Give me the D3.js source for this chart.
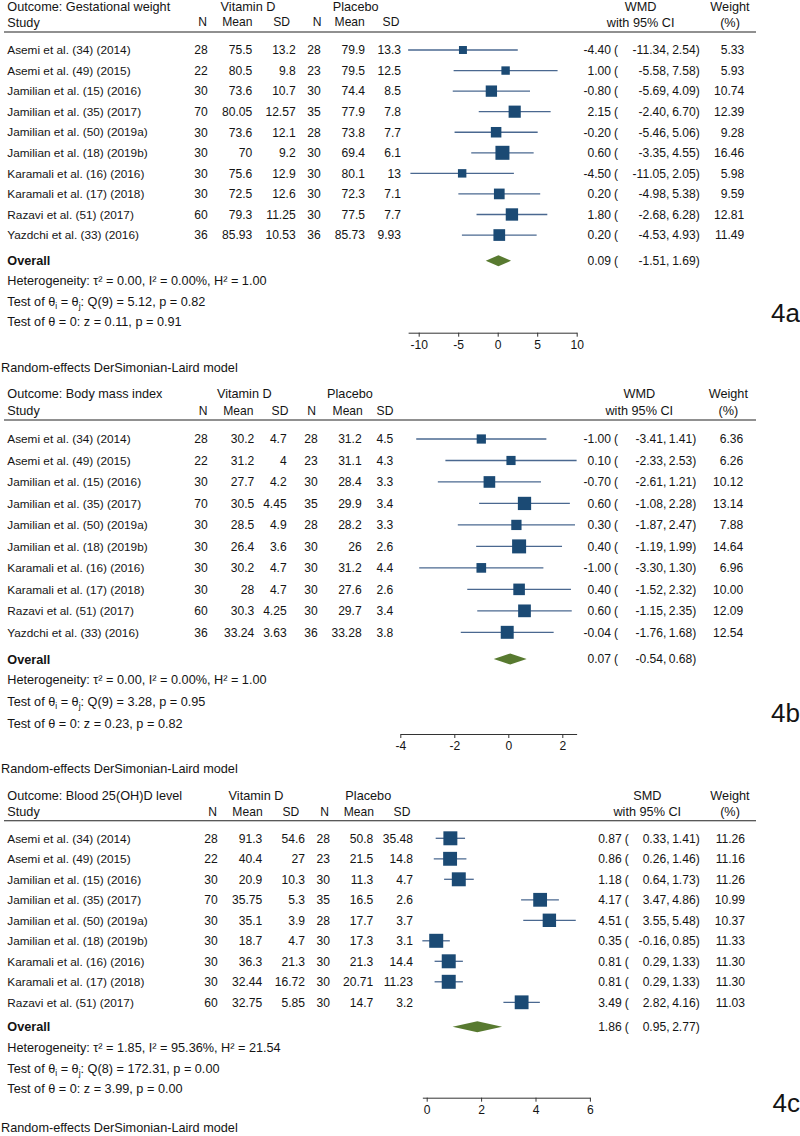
<!DOCTYPE html>
<html>
<head>
<meta charset="utf-8">
<script src="https://cdn.jsdelivr.net/npm/d3@7"></script>
<style>
  html, body { margin: 0; padding: 0; background: #fff; }
  svg { display: block; }
</style>
</head>
<body>
<script>
// ---------------- DATA ----------------
const studies10 = ["Asemi et al. (34) (2014)", "Asemi et al. (49) (2015)", "Jamilian et al. (15) (2016)",
  "Jamilian et al. (35) (2017)", "Jamilian et al. (50) (2019a)", "Jamilian et al. (18) (2019b)",
  "Karamali et al. (16) (2016)", "Karamali et al. (17) (2018)", "Razavi et al. (51) (2017)",
  "Yazdchi et al. (33) (2016)"];
const studies9 = studies10.slice(0, 9);

// 4a: Gestational weight
const titleA = "Outcome: Gestational weight";
const nVitA = [28, 22, 30, 70, 30, 30, 30, 30, 60, 36];
const meanVitA = [75.5, 80.5, 73.6, 80.05, 73.6, 70, 75.6, 72.5, 79.3, 85.93];
const sdVitA = [13.2, 9.8, 10.7, 12.57, 12.1, 9.2, 12.9, 12.6, 11.25, 10.53];
const nPlaA = [28, 23, 30, 35, 28, 30, 30, 30, 30, 36];
const meanPlaA = [79.9, 79.5, 74.4, 77.9, 73.8, 69.4, 80.1, 72.3, 77.5, 85.73];
const sdPlaA = [13.3, 12.5, 8.5, 7.8, 7.7, 6.1, 13, 7.1, 7.7, 9.93];
const effA = [-4.40, 1.00, -0.80, 2.15, -0.20, 0.60, -4.50, 0.20, 1.80, 0.20];
const lowA = [-11.34, -5.58, -5.69, -2.40, -5.46, -3.35, -11.05, -4.98, -2.68, -4.53];
const highA = [2.54, 7.58, 4.09, 6.70, 5.06, 4.55, 2.05, 5.38, 6.28, 4.93];
const weightA = [5.33, 5.93, 10.74, 12.39, 9.28, 16.46, 5.98, 9.59, 12.81, 11.49];
const overallA = [0.09, -1.51, 1.69];
const hetA = ["0.00", "0.00%", "1.00"];
const qA = ["9", "5.12", "0.82"];
const zA = ["0.11", "0.91"];
const ticksA = [-10, -5, 0, 5, 10];

// 4b: Body mass index
const titleB = "Outcome: Body mass index";
const nVitB = [28, 22, 30, 70, 30, 30, 30, 30, 60, 36];
const meanVitB = [30.2, 31.2, 27.7, 30.5, 28.5, 26.4, 30.2, 28, 30.3, 33.24];
const sdVitB = [4.7, 4, 4.2, 4.45, 4.9, 3.6, 4.7, 4.7, 4.25, 3.63];
const nPlaB = [28, 23, 30, 35, 28, 30, 30, 30, 30, 36];
const meanPlaB = [31.2, 31.1, 28.4, 29.9, 28.2, 26, 31.2, 27.6, 29.7, 33.28];
const sdPlaB = [4.5, 4.3, 3.3, 3.4, 3.3, 2.6, 4.4, 2.6, 3.4, 3.8];
const effB = [-1.00, 0.10, -0.70, 0.60, 0.30, 0.40, -1.00, 0.40, 0.60, -0.04];
const lowB = [-3.41, -2.33, -2.61, -1.08, -1.87, -1.19, -3.30, -1.52, -1.15, -1.76];
const highB = [1.41, 2.53, 1.21, 2.28, 2.47, 1.99, 1.30, 2.32, 2.35, 1.68];
const weightB = [6.36, 6.26, 10.12, 13.14, 7.88, 14.64, 6.96, 10.00, 12.09, 12.54];
const overallB = [0.07, -0.54, 0.68];
const hetB = ["0.00", "0.00%", "1.00"];
const qB = ["9", "3.28", "0.95"];
const zB = ["0.23", "0.82"];
const ticksB = [-4, -2, 0, 2];

// 4c: Blood 25(OH)D level
const titleC = "Outcome: Blood 25(OH)D level";
const nVitC = [28, 22, 30, 70, 30, 30, 30, 30, 60];
const meanVitC = [91.3, 40.4, 20.9, 35.75, 35.1, 18.7, 36.3, 32.44, 32.75];
const sdVitC = [54.6, 27, 10.3, 5.3, 3.9, 4.7, 21.3, 16.72, 5.85];
const nPlaC = [28, 23, 30, 35, 28, 30, 30, 30, 30];
const meanPlaC = [50.8, 21.5, 11.3, 16.5, 17.7, 17.3, 21.3, 20.71, 14.7];
const sdPlaC = [35.48, 14.8, 4.7, 2.6, 3.7, 3.1, 14.4, 11.23, 3.2];
const effC = [0.87, 0.86, 1.18, 4.17, 4.51, 0.35, 0.81, 0.81, 3.49];
const lowC = [0.33, 0.26, 0.64, 3.47, 3.55, -0.16, 0.29, 0.29, 2.82];
const highC = [1.41, 1.46, 1.73, 4.86, 5.48, 0.85, 1.33, 1.33, 4.16];
const weightC = [11.26, 11.16, 11.26, 10.99, 10.37, 11.33, 11.30, 11.30, 11.03];
const overallC = [1.86, 0.95, 2.77];
const hetC = ["1.85", "95.36%", "21.54"];
const qC = ["8", "172.31", "0.00"];
const zC = ["3.99", "0.00"];
const ticksC = [0, 2, 4, 6];

// ---------------- LAYOUT ----------------
const W = 800, H = 1136;
const FONT = "'Liberation Sans', Arial, Helvetica, sans-serif";
const FS = 12.7;      // general text
const FS_NAME = 11.8; // study names
const FS_NUM = 12.1;  // numbers and column heads
const TXT = "#141414";
const NAVY = "#1b4a74";
const LINE = "#4a6890";
const GREEN = "#587a30";

const panels = [
  { tag: "4a", title: titleA, effName: "WMD", studies: studies10,
    cols: [nVitA, meanVitA, sdVitA, nPlaA, meanPlaA, sdPlaA],
    eff: effA, low: lowA, high: highA, weight: weightA, overall: overallA,
    het: hetA, q: qA, z: zA, ticks: ticksA,
    L: { h1: 6, h2: 22, rule: 32, row0: 50, step: 20.56, overall: 260.7, het: 280.7, t1: 301.7, t2: 321.7,
         axis: 332.7, model: 367.7, tag: 313,
         colR: [207.7, 252.3, 295.7, 320.7, 365, 401], colH: [202.7, 237.3, 281.7, 317, 349.7, 391],
         vitC: 248, plaC: 355.7, x0: 497.7, ppu: 7.9, xE: 611, xL: 666, xU: 695.7, wR: 744.3, effC: 640.7, wC: 730 } },
  { tag: "4b", title: titleB, effName: "WMD", studies: studies10,
    cols: [nVitB, meanVitB, sdVitB, nPlaB, meanPlaB, sdPlaB],
    eff: effB, low: lowB, high: highB, weight: weightB, overall: overallB,
    het: hetB, q: qB, z: zB, ticks: ticksB,
    L: { h1: 393.3, h2: 410.7, rule: 420, row0: 439, step: 21.48, overall: 659, het: 679.3, t1: 701.7, t2: 723.3,
         axis: 734, model: 768.3, tag: 713,
         colR: [207.7, 254.3, 286.7, 317.7, 361.7, 393.3], colH: [203, 238.3, 280, 311.7, 347.7, 385],
         vitC: 244.3, plaC: 350, x0: 508.3, ppu: 27, xE: 611, xL: 663, xU: 692.3, wR: 743.3, effC: 639.3, wC: 728.3 } },
  { tag: "4c", title: titleC, effName: "SMD", studies: studies9,
    cols: [nVitC, meanVitC, sdVitC, nPlaC, meanPlaC, sdPlaC],
    eff: effC, low: lowC, high: highC, weight: weightC, overall: overallC,
    het: hetC, q: qC, z: zC, ticks: ticksC,
    L: { h1: 795, h2: 811.7, rule: 820.7, row0: 838.3, step: 20.5, overall: 1026.7, het: 1047.3, t1: 1068.3, t2: 1088.3,
         axis: 1097.7, model: 1127.5, tag: 1103,
         colR: [217.7, 262.3, 305, 330, 373.3, 413], colH: [212.7, 247.5, 290.8, 324.7, 358.8, 402],
         vitC: 256, plaC: 368.3, x0: 426.7, ppu: 27.2, xE: 621.7, xL: 666.2, xU: 695.7, wR: 745, effC: 647.3, wC: 730 } }
];

const svg = d3.select("body").append("svg")
  .attr("width", W).attr("height", H)
  .attr("viewBox", `0 0 ${W} ${H}`)
  .style("font-family", FONT);
svg.append("rect").attr("width", W).attr("height", H).attr("fill", "#fff");

const f2 = v => v.toFixed(2);

function txt(g, x, yc, s, anchor = "start", opts = {}) {
  const fs = opts.fs || FS;
  return g.append("text")
    .attr("x", x).attr("y", yc + (opts.bl != null ? opts.bl : fs * 0.36))
    .attr("text-anchor", anchor)
    .attr("font-size", fs)
    .attr("font-weight", opts.bold ? "bold" : null)
    .attr("fill", TXT)
    .text(s);
}
const num = (g, x, yc, s, anchor = "end") => txt(g, x, yc, s, anchor, { fs: FS_NUM });

panels.forEach(p => {
  const L = p.L;
  const g = svg.append("g");
  const n = p.studies.length;

  // scales
  const dmin = Math.min(d3.min(p.low), d3.min(p.ticks));
  const dmax = Math.max(d3.max(p.high), d3.max(p.ticks));
  const x = d3.scaleLinear().domain([dmin, dmax])
    .range([L.x0 + dmin * L.ppu, L.x0 + dmax * L.ppu]);
  const y = d3.scaleLinear().domain([0, n - 1]).range([L.row0, L.row0 + (n - 1) * L.step]);
  const side = d3.scaleSqrt().domain([0, d3.max(p.weight)]).range([0, 14]);

  // headers
  txt(g, 7.3, L.h1, p.title);
  txt(g, 7.3, L.h2, "Study");
  txt(g, L.vitC, L.h1, "Vitamin D", "middle");
  txt(g, L.plaC, L.h1, "Placebo", "middle");
  ["N", "Mean", "SD", "N", "Mean", "SD"].forEach((h, i) => num(g, L.colH[i], L.h2, h, "middle"));
  txt(g, L.effC, L.h1, p.effName, "middle");
  txt(g, L.effC, L.h2, "with 95% CI", "middle");
  txt(g, L.wC, L.h1, "Weight", "middle");
  txt(g, L.wC, L.h2, "(%)", "middle");
  g.append("line").attr("x1", 4).attr("x2", 756).attr("y1", L.rule).attr("y2", L.rule)
    .attr("stroke", "#222").attr("stroke-width", 1.1);

  // rows
  p.studies.forEach((s, i) => {
    const yc = y(i);
    txt(g, 7.3, yc, s, "start", { fs: FS_NAME });
    p.cols.forEach((col, j) => num(g, L.colR[j], yc, String(col[i])));
    // CI
    g.append("line").attr("x1", x(p.low[i])).attr("x2", x(p.high[i]))
      .attr("y1", yc).attr("y2", yc).attr("stroke", LINE).attr("stroke-width", 1.3);
    const sd = side(p.weight[i]);
    g.append("rect").attr("x", x(p.eff[i]) - sd / 2).attr("y", yc - sd / 2)
      .attr("width", sd).attr("height", sd).attr("fill", NAVY);
    // text columns
    num(g, L.xE, yc, f2(p.eff[i]));
    num(g, L.xE + 3, yc, "(", "start");
    num(g, L.xL, yc, f2(p.low[i]));
    num(g, L.xL, yc, ",", "start");
    num(g, L.xU, yc, f2(p.high[i]));
    num(g, L.xU, yc, ")", "start");
    num(g, L.wR, yc, f2(p.weight[i]));
  });

  // overall
  const yo = L.overall;
  txt(g, 7.3, yo, "Overall", "start", { bold: true });
  const [oe, ol, oh] = p.overall;
  g.append("path")
    .attr("d", `M${x(ol)},${yo} L${x(oe)},${yo - 5.5} L${x(oh)},${yo} L${x(oe)},${yo + 5.5} Z`)
    .attr("fill", GREEN);
  num(g, L.xE, yo, f2(oe));
  num(g, L.xE + 3, yo, "(", "start");
  num(g, L.xL, yo, f2(ol));
  num(g, L.xL, yo, ",", "start");
  num(g, L.xU, yo, f2(oh));
  num(g, L.xU, yo, ")", "start");

  // stats
  txt(g, 7.3, L.het, `Heterogeneity: τ² = ${p.het[0]}, I² = ${p.het[1]}, H² = ${p.het[2]}`);
  const t1 = g.append("text").attr("x", 7.3).attr("y", L.t1 + FS * 0.36)
    .attr("font-size", FS).attr("fill", TXT);
  t1.append("tspan").text("Test of θ");
  t1.append("tspan").attr("dy", 3).attr("font-size", 8.5).text("i");
  t1.append("tspan").attr("dy", -3).text(" = θ");
  t1.append("tspan").attr("dy", 3).attr("font-size", 8.5).text("j");
  t1.append("tspan").attr("dy", -3).text(`: Q(${p.q[0]}) = ${p.q[1]}, p = ${p.q[2]}`);
  txt(g, 7.3, L.t2, `Test of θ = 0: z = ${p.z[0]}, p = ${p.z[1]}`);

  // axis
  const ax = g.append("g").attr("transform", `translate(0,${L.axis})`)
    .call(d3.axisBottom(x).tickValues(p.ticks).tickSize(4).tickSizeOuter(0).tickPadding(3.5)
      .tickFormat(d => String(d)));
  ax.select(".domain").attr("stroke", "#333").attr("stroke-width", 1);
  ax.selectAll(".tick line").attr("stroke", "#333");
  ax.selectAll("text").attr("font-size", FS_NUM).attr("font-family", FONT).attr("fill", TXT);

  // model note and tag
  txt(g, 1, L.model, "Random-effects DerSimonian-Laird model");
  txt(g, 800, L.tag, p.tag, "end", { fs: 26, bl: 9.3 });
});
</script>
</body>
</html>
